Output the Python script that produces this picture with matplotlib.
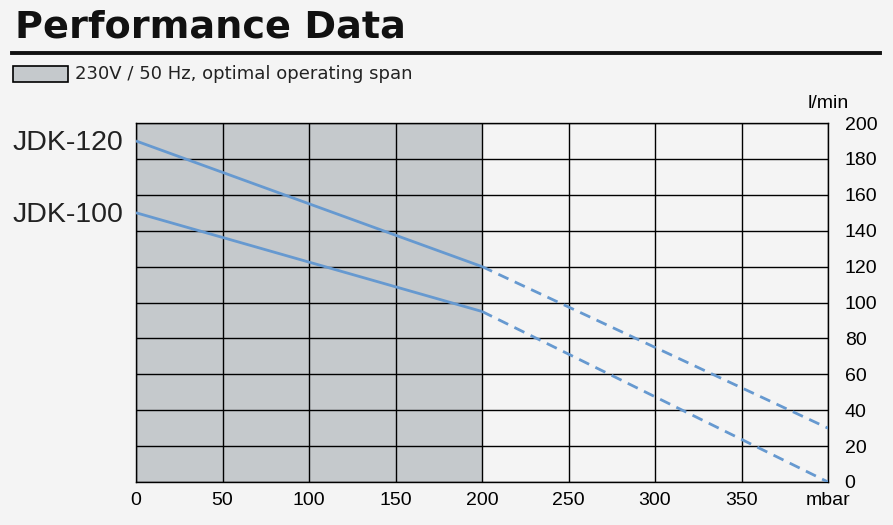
import numpy as np
from matplotlib import pyplot as plt
from matplotlib.patches import Rectangle
from matplotlib.transforms import blended_transform_factory

# Values
pressure = [0, 200, 400]            # mbar
jdk120 = [190, 120, 30]             # l/min
jdk100 = [150, 95, 0]               # l/min
model_names = ['JDK-120', 'JDK-100']
x_ticks = [0, 50, 100, 150, 200, 250, 300, 350, 400]
x_labels = ['0', '50', '100', '150', '200', '250', '300', '350', 'mbar']
y_ticks = list(range(0, 201, 20))
span_start, span_end = 0, 200
legend_text = '230V / 50 Hz, optimal operating span'

bg = '#f4f4f4'
shade = '#c5c9cc'
blue = '#6699d0'

fig = plt.figure(figsize=(8.93, 5.25), dpi=100, facecolor=bg)
ax = fig.add_axes([136/893, 1 - 482/525, 692/893, 359/525])
ax.set_facecolor(bg)

# shaded operating span, grid drawn on top of it
ax.axvspan(span_start, span_end, color=shade, zorder=1, lw=0)
ax.set_axisbelow(False)
ax.grid(True, color='black', lw=1.0)

# solid inside the span, dashed beyond it
for ys in (jdk120, jdk100):
    ax.plot(pressure[:2], ys[:2], color=blue, lw=2.0, zorder=4, solid_capstyle='butt')
    ax.plot(pressure[1:], ys[1:], color=blue, lw=2.0, zorder=4, ls=(0, (4, 2.5)))

ax.set_xlim(0, 400)
ax.set_ylim(0, 200)
ax.set_xticks(x_ticks)
ax.set_xticklabels(x_labels)
ax.set_yticks(y_ticks)
ax.yaxis.tick_right()
ax.tick_params(length=0, labelsize=14)
ax.tick_params(axis='y', pad=12)
ax.tick_params(axis='x', pad=7)
for lab in ax.get_xticklabels() + ax.get_yticklabels():
    lab.set_family('Liberation Sans')
for s in ax.spines.values():
    s.set_color('black')
    s.set_linewidth(1.0)

# model labels to the left of the plot
trans = blended_transform_factory(fig.transFigure, ax.transData)
for name, ys in zip(model_names, (jdk120, jdk100)):
    ax.text(13/893, ys[0] - 1, name, transform=trans, ha='left', va='center',
            fontsize=20.5, family='Liberation Sans', color='#222222')

ax.text(1.0, 1.03, 'l/min', transform=ax.transAxes, ha='center', va='bottom',
        fontsize=14, family='Liberation Sans')

# title and rule
fig.text(15/893, 1 - 27/525, 'Performance Data', fontsize=27.5, fontweight='heavy',
         family='DejaVu Sans', va='center', ha='left', color='#111111')
fig.add_artist(plt.Line2D([12/893, 880/893], [1 - 53/525, 1 - 53/525], color='#111111', lw=2.8))

# legend box
fig.add_artist(Rectangle((13/893, 1 - 82/525), 55/893, 16/525, facecolor=shade,
                         edgecolor='black', lw=1.2, transform=fig.transFigure))
fig.text(75/893, 1 - 74/525, legend_text, fontsize=13, va='center', ha='left',
         family='DejaVu Sans', color='#222222')

plt.savefig('out.png', dpi=100, facecolor=bg)
